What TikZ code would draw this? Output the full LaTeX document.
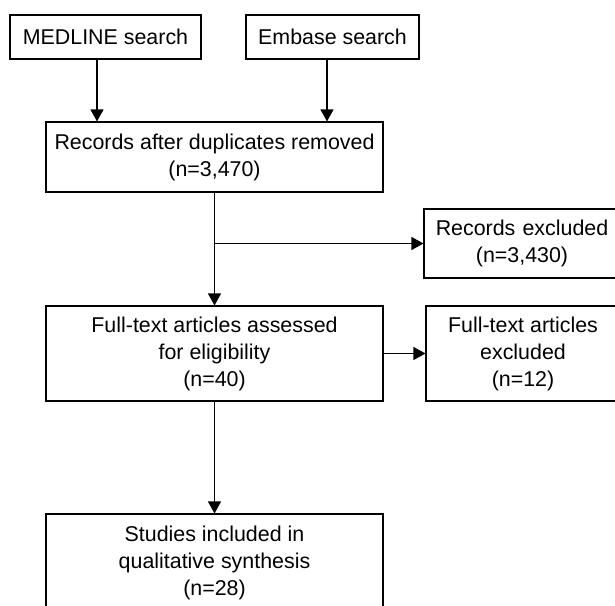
\documentclass[tikz,border=0pt]{standalone}
\usepackage{fontspec}
\setmainfont{Liberation Sans}
\usetikzlibrary{arrows.meta}
\begin{document}
\begin{tikzpicture}[x=1pt,y=-1pt,
  box/.style={draw=black, line width=1.1pt, inner sep=0pt, align=center,
    font=\fontsize{21.4}{27}\selectfont},
  arr/.style={draw=black, line width=1.1pt, -{Triangle[width=13pt,length=12pt]}}]
\useasboundingbox (0,0) rectangle (615,605);
\clip (0,0) rectangle (615,605);
\node[box, minimum width=191pt, minimum height=44pt] (med) at (105.5,37) {MEDLINE search};
\node[box, minimum width=173pt, minimum height=44pt] (emb) at (332.5,37) {Embase search};
\node[box, minimum width=337pt, minimum height=70pt] (rec) at (214.5,157) {Records after duplicates removed\\(n=3,470)};
\node[box, minimum width=196pt, minimum height=69pt, text width=196pt] (exa) at (522,243.5) {Records excluded\\(n=3,430)};
\draw[line width=1.1pt] (exa.north east) -- ++(20,0) (exa.south east) -- ++(20,0);
\node[box, minimum width=194pt, minimum height=95pt] (exb) at (523,353.5) {Full-text articles\\excluded\\(n=12)};
\draw[line width=1.1pt] (exb.north east) -- ++(20,0) (exb.south east) -- ++(20,0);
\node[box, minimum width=337pt, minimum height=95pt] (full) at (214.5,353.5) {Full-text articles assessed\\for eligibility\\(n=40)};
\node[box, minimum width=337pt, minimum height=98pt] (stud) at (214.5,563) {Studies included in\\qualitative synthesis\\(n=28)};
\draw[arr] ([xshift=-8.5pt]med.south) -- ([xshift=-8.5pt]med.south |- rec.north);
\draw[arr] ([xshift=-5.5pt]emb.south) -- ([xshift=-5.5pt]emb.south |- rec.north);
\draw[arr] (rec.south) -- (full.north);
\draw[arr] (rec.south |- exa.west) -- (exa.west);
\draw[arr] (full.east) -- (exb.west);
\draw[arr] (full.south) -- (stud.north);
\end{tikzpicture}
\end{document}
